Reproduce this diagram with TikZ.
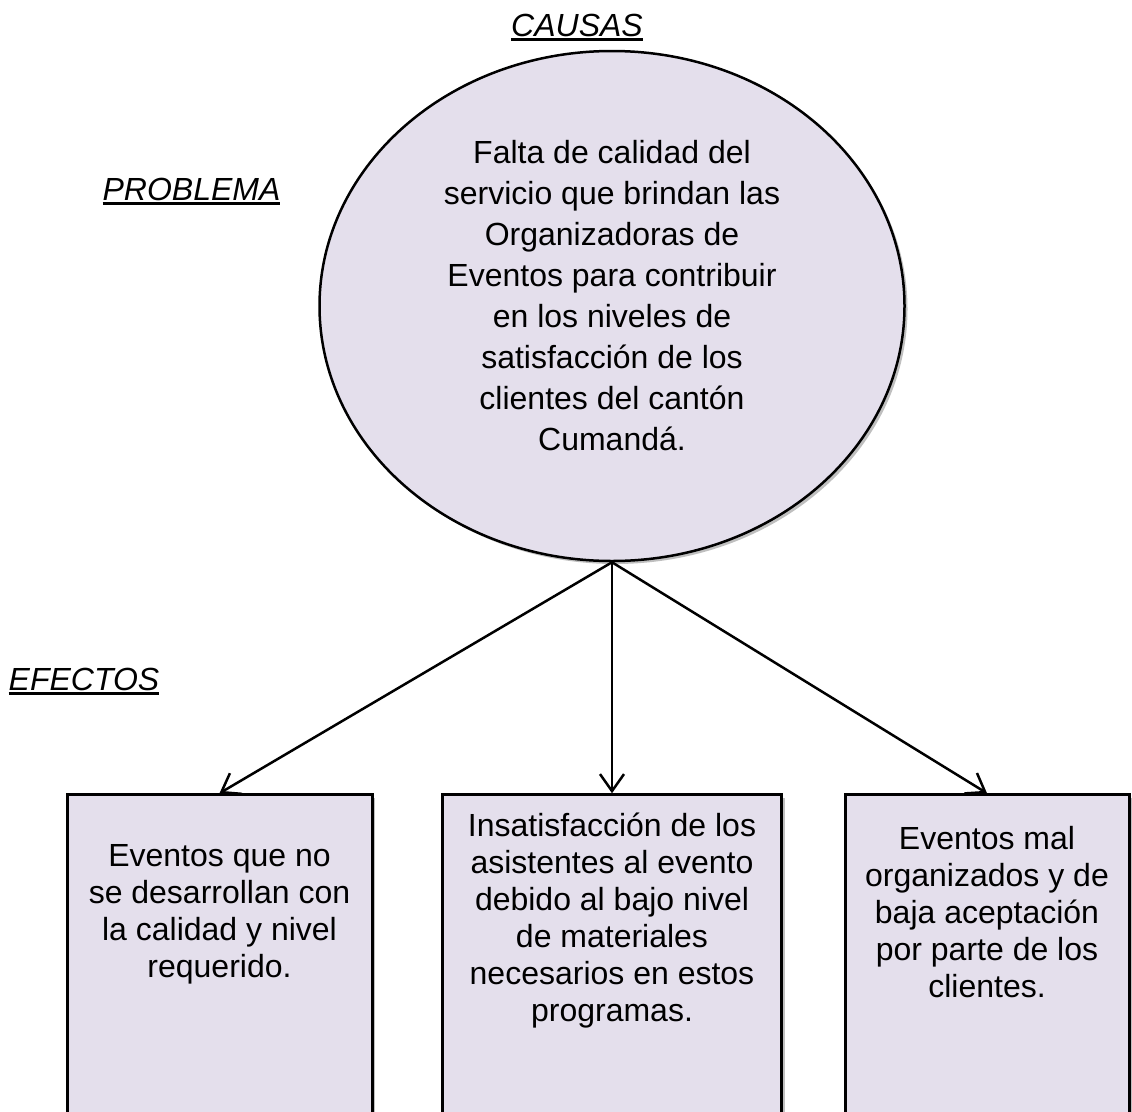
\documentclass[tikz,border=0pt]{standalone}
\usepackage{fontspec}
\setmainfont{Liberation Sans}
\usetikzlibrary{shapes.geometric,arrows.meta,shadows}
\definecolor{lila}{HTML}{E4DFEC}
\newcommand{\rayado}[1]{\setbox0\hbox{#1}\rlap{\rule[-5pt]{\wd0}{3pt}}\box0}
\begin{document}
\begin{tikzpicture}[
    x=1pt, y=-1pt,
    level distance=231pt,
    sibling distance=385pt,
    growth parent anchor=south,
    parent anchor=south,
    child anchor=north,
    edge from parent/.style={draw, line width=2.5pt, -{Straight Barb[length=17pt,width=24pt]}},
    sombra/.style={drop shadow={shadow xshift=3pt, shadow yshift=-3pt, fill=black, opacity=0.25}},
    problema/.style={ellipse, draw, line width=2.5pt, fill=lila, minimum width=585pt, minimum height=510pt, inner sep=0pt, align=center, font=\fontsize{32}{41}\selectfont, text depth=22pt, sombra},
    efecto/.style={rectangle, draw, line width=3pt, fill=lila, anchor=north, align=center, inner xsep=0pt, text depth=200pt, font=\fontsize{32}{37}\selectfont, sombra},
    titulo/.style={anchor=base, inner sep=0pt, font=\fontsize{32}{38}\selectfont\itshape}
    ]
    \useasboundingbox (0,0) rectangle (1132,1111);
    \node[titulo] (causas) at (577,36) {\rayado{CAUSAS}};
    \node[titulo] (tprob) at (191.5,200) {\rayado{PROBLEMA}};
    \node[titulo] (efectos) at (84,690) {\rayado{EFECTOS}};
    \node[problema] (falta) at (612,306) {Falta de calidad del\\servicio que brindan las\\Organizadoras de\\Eventos para contribuir\\en los niveles de\\satisfacción de los\\clientes del cantón\\Cumandá.}
    child[xshift=-7.5pt] {node[efecto, minimum width=305pt, inner ysep=50pt] (ef1) {Eventos que no\\se desarrollan con\\la calidad y nivel\\requerido.}}
    child {node[efecto, minimum width=339pt, inner ysep=18pt] (ef2) {Insatisfacción de los\\asistentes al evento\\debido al bajo nivel\\de materiales\\necesarios en estos\\programas.}}
    child[xshift=-10pt] {node[efecto, minimum width=284pt, inner ysep=32pt] (ef3) {Eventos mal\\organizados y de\\baja aceptación\\por parte de los\\clientes.}};
\end{tikzpicture}
\end{document}
